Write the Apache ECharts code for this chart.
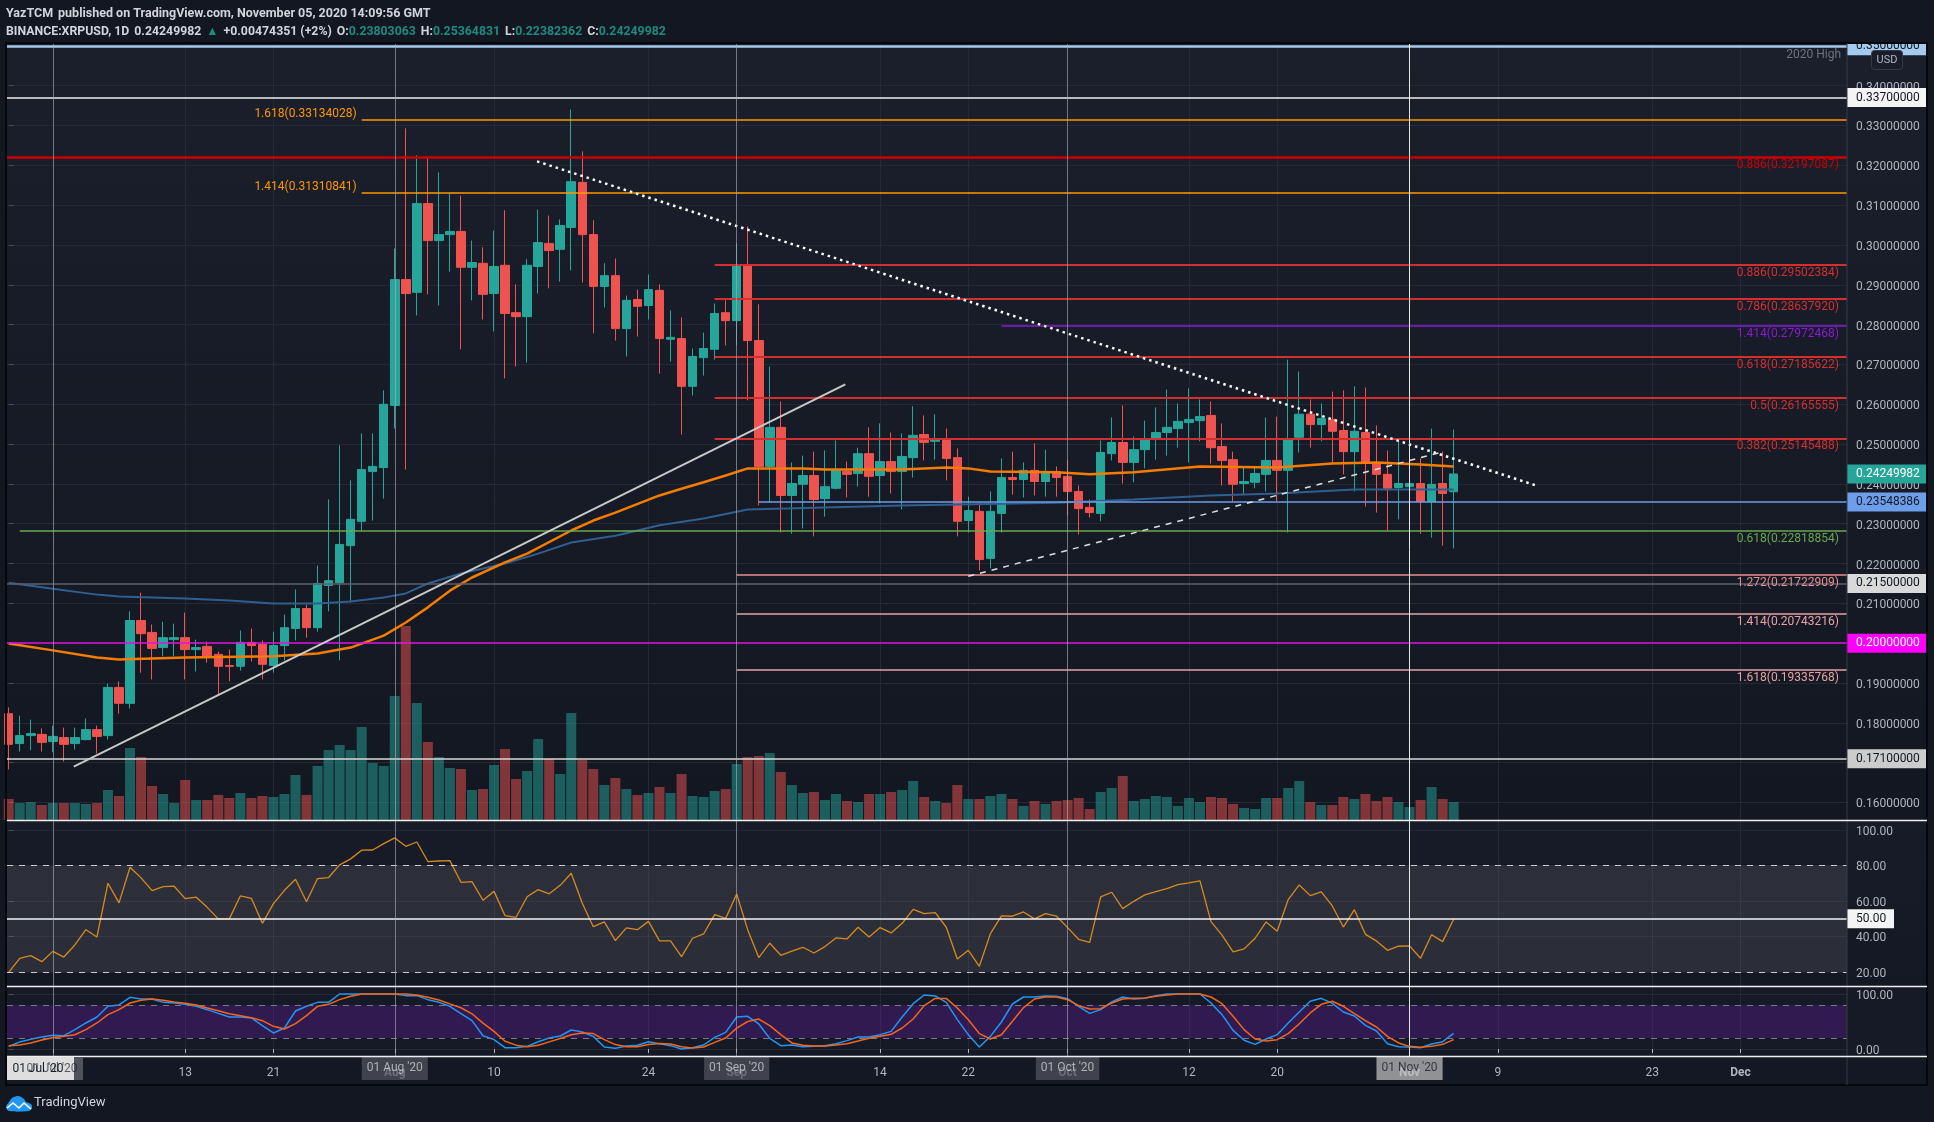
<!DOCTYPE html>
<html>
<head>
<meta charset="utf-8">
<title>XRPUSD</title>
<style>
html,body{margin:0;padding:0;background:#131722;}
#main{width:1934px;height:1122px;}
</style>
<script src="https://cdn.jsdelivr.net/npm/echarts@6/dist/echarts.min.js"></script>
</head>
<body>
<div id="main"></div>
<script>
// daily candles, first one is 27 Jun 2020
var firstDay = '2020-06-27';
var opens = [
.1823,.1748,.1768,.1771,.1753,.1763,.1748,.1758,.1783,.1768,
.1889,.1849,.2057,.2027,.1989,.2009,.2014,.1984,.1992,.1972,
.1944,.1942,.2002,.1997,.1944,.1994,.2037,.2087,.2039,.2145,
.2152,.2245,.2306,.2431,.2441,.2597,.2913,.2881,.3104,.3011,
.3026,.3034,.2944,.2954,.2878,.2949,.2830,.2820,.2946,.3004,
.2989,.3044,.3157,.3026,.2896,.2923,.2790,.2863,.2848,.2886,
.2763,.2765,.2645,.2717,.2738,.2830,.2810,.2949,.2760,.2444,
.2542,.2371,.2399,.2421,.2363,.2389,.2431,.2426,.2476,.2421,
.2456,.2431,.2466,.2524,.2507,.2509,.2466,.2308,.2331,.2213,
.2326,.2416,.2411,.2434,.2406,.2431,.2419,.2381,.2341,.2326,
.2476,.2504,.2454,.2486,.2512,.2529,.2539,.2554,.2559,.2572,
.2494,.2461,.2401,.2404,.2424,.2459,.2434,.2517,.2575,.2549,
.2562,.2534,.2481,.2529,.2451,.2424,.2391,.2393,.2401,.2356,
.2401,.23803063];
var closes = [
.1746,.1768,.1773,.1751,.1766,.1746,.1763,.1783,.1766,.1889,
.1849,.2057,.2024,.1987,.2014,.2014,.1984,.1989,.1967,.1942,
.1942,.2002,.1994,.1947,.1994,.2039,.2087,.2039,.2150,.2157,
.2248,.2311,.2436,.2444,.2600,.2913,.2878,.3104,.3011,.3026,
.3034,.2944,.2956,.2876,.2946,.2828,.2820,.2949,.3006,.2986,
.3049,.3159,.3026,.2896,.2923,.2790,.2861,.2846,.2888,.2765,
.2768,.2645,.2720,.2740,.2828,.2810,.2949,.2760,.2444,.2542,
.2371,.2401,.2421,.2361,.2393,.2434,.2424,.2476,.2419,.2456,
.2431,.2469,.2522,.2504,.2512,.2464,.2306,.2333,.2210,.2331,
.2416,.2411,.2434,.2406,.2429,.2416,.2381,.2338,.2328,.2479,
.2504,.2454,.2486,.2512,.2529,.2542,.2557,.2562,.2569,.2491,
.2459,.2399,.2406,.2426,.2459,.2434,.2512,.2575,.2549,.2564,
.2532,.2481,.2532,.2454,.2424,.2389,.2401,.2401,.2356,.2399,
.2376,.24249982];
var lows = [
.1683,.1728,.1731,.1728,.1726,.1703,.1733,.1756,.1723,.1758,
.1823,.1836,.1926,.1909,.1967,.1967,.1909,.1929,.1951,.1872,
.1904,.1931,.1954,.1909,.1926,.1957,.2007,.2014,.2029,.2080,
.1957,.2105,.2283,.2308,.2363,.2539,.2436,.2823,.2876,.2848,
.2933,.2738,.2861,.2813,.2783,.2665,.2695,.2705,.2878,.2891,
.2908,.2936,.2906,.2778,.2843,.2760,.2720,.2770,.2813,.2677,
.2707,.2524,.2622,.2672,.2712,.2748,.2748,.2610,.2346,.2353,
.2278,.2275,.2288,.2268,.2318,.2386,.2366,.2393,.2368,.2351,
.2376,.2336,.2416,.2459,.2461,.2409,.2268,.2278,.2183,.2188,
.2278,.2373,.2366,.2371,.2368,.2368,.2321,.2273,.2316,.2306,
.2459,.2401,.2404,.2439,.2461,.2471,.2491,.2454,.2507,.2451,
.2396,.2356,.2373,.2389,.2381,.2356,.2278,.2479,.2491,.2507,
.2451,.2424,.2381,.2343,.2328,.2283,.2311,.2358,.2275,.2265,
.2245,.22382362];
var highs = [
.1839,.1818,.1808,.1786,.1793,.1788,.1788,.1811,.1793,.1899,
.1904,.2080,.2127,.2047,.2054,.2049,.2077,.2009,.2004,.1979,
.1984,.2032,.2037,.2007,.2029,.2072,.2135,.2097,.2195,.2361,
.2497,.2409,.2527,.2527,.2635,.2991,.3293,.3225,.3217,.3182,
.3129,.3124,.3011,.2994,.3036,.3087,.2901,.2964,.3089,.3074,
.3064,.3340,.3235,.3062,.2954,.2966,.2873,.2888,.2926,.2901,
.2836,.2818,.2740,.2780,.2853,.2861,.3004,.3047,.2851,.2695,
.2607,.2454,.2471,.2481,.2484,.2509,.2456,.2491,.2542,.2552,
.2529,.2527,.2595,.2572,.2575,.2539,.2489,.2368,.2353,.2381,
.2464,.2481,.2454,.2502,.2486,.2444,.2459,.2396,.2361,.2509,
.2567,.2597,.2519,.2559,.2592,.2637,.2602,.2640,.2612,.2607,
.2552,.2481,.2441,.2444,.2567,.2569,.2712,.2682,.2612,.2602,
.2632,.2635,.2645,.2642,.2547,.2484,.2507,.2470,.2464,.2539,
.2481,.25364831];
var volumes = [
21,17,18,15,17,17,17,16,17,30,
24,72,63,34,26,17,40,20,20,25,
22,27,22,24,23,26,45,25,54,70,
75,70,93,57,54,124,194,117,78,63,
52,51,30,31,55,71,41,49,81,61,
46,107,60,51,35,42,31,25,27,33,
27,46,24,23,29,31,56,63,64,67,
48,35,27,28,20,26,19,18,26,26,
28,30,39,23,19,17,35,21,21,24,
26,21,14,19,16,19,20,22,11,28,
32,44,19,21,24,23,14,22,18,23,
22,16,12,11,22,22,32,39,18,15,
15,23,21,26,19,23,18,13,20,33,
21,18];
var rsiValues = [
19.8,27.7,29.2,25.8,31.6,28.4,35.2,43.8,39.7,70.0,
58.9,79.0,73.0,65.8,68.1,68.3,61.3,62.1,56.4,49.9,
49.9,62.8,61.5,47.4,58.5,66.0,72.2,59.6,72.6,73.2,
80.3,83.7,88.6,88.7,92.3,95.5,90.8,93.2,82.2,82.5,
82.7,70.5,70.9,60.4,65.4,51.7,50.8,62.4,66.4,64.0,
68.8,75.6,58.7,45.5,48.2,37.7,44.8,43.8,48.5,37.5,
37.5,28.6,39.0,41.4,52.3,50.2,63.9,43.7,28.1,36.2,
29.4,31.8,33.9,30.7,34.3,39.2,38.6,45.2,39.7,45.0,
42.0,47.4,55.3,52.9,53.4,45.2,27.3,32.2,23.2,41.6,
51.6,51.4,53.8,49.9,52.9,51.4,45.0,38.4,36.7,62.3,
64.9,55.7,59.8,63.4,65.3,66.9,69.2,70.2,71.3,48.4,
40.8,31.3,33.0,39.0,48.2,42.9,60.8,69.0,63.0,65.1,
57.2,45.3,55.1,41.2,37.5,32.2,34.5,34.7,27.7,41.0,
37.1,49.7];
var stochK = [
4.8,12.7,17.6,21.8,24.8,24.2,35.2,47.3,58.2,77.6,
80,93.9,90.9,90.9,84.8,83.6,81.2,77.6,71.5,64.8,
58.2,58.2,56.4,42.4,29.1,38.2,69.1,77.6,84.8,84.8,
100,100,100,100,100,100,97,97,89.7,84.8,
77.6,64.2,51.5,24.2,17,2.4,2.4,4.8,13.3,20,
23.6,34.5,30.9,23,3.6,1.2,5.5,6.7,13.3,9.7,
6.1,0,2.4,7.3,21.2,30.3,58.2,59.4,45.5,19.4,
6.1,7.3,4.2,4.8,6.1,9.7,15.2,21.8,21.8,26.1,
32.1,58.2,82.4,98.2,96.4,84.8,53.3,26.1,3.6,23,
49.1,81.8,94.5,94.5,96.4,95.8,91.5,77.6,64.8,71.5,
85.5,94.5,90.9,92.1,97,100,100,100,100,83.6,
62.4,33.9,15.8,8.5,18.2,26.1,47.3,67.3,86.7,92.1,
83,67.3,60,43,32.7,9.7,4.2,3.6,2.4,9.1,
13.3,28.5];
var stochD = [
6.1,7.3,10.9,16.4,20.6,23,26,35.2,47.3,62.4,
71.5,83.6,88.5,90.9,88.5,85.5,83,80,74.5,69.7,
64.2,60.6,57,51.5,41.2,36.4,46.1,60.6,77.6,81.2,
89.7,95.8,100,100,100,100,100,98,94,89,
82,75,64,47,32,14,7,4,7,13,
19,26,29,28,17,8,4,4,8,10,
9,4,2,3.6,12,20,38,50,54.5,42.4,
26,11,6.7,5.5,5.5,7.3,9.7,14.5,19.4,23,
26.7,38.2,54.5,78.8,92,92,74.5,53.3,27.9,18.2,
26,50.3,75.2,90.9,94.5,94.5,89.7,78.8,72.7,73.3,
83.6,90.9,92.1,92.7,95.8,98.2,100,100,100,94.5,
82.4,59.4,35.2,18.2,14.5,17,27.9,46,65.5,81.2,
86.7,77.6,64.2,51.5,40,23,11,4.8,3,4.8,
8.5,17];

// moving averages, only the visible vertices (day number from firstDay)
var emaDays = [0,4,8,10,16,24,28,31,34,36,38,40,42,45,47,51,53,55,59,61,63,65,67,72,74,81,85,87,89,95,98,102,108,115,120,124,128,131];
var emaValues = [.1999,.1982,.1964,.1959,.1964,.1967,.1974,.1989,.2019,.2052,.2090,.2132,.2165,.2203,.2225,.2283,.2308,.2328,.2371,.2388,.2404,.2421,.2439,.2439,.2436,.2436,.2441,.2439,.2431,.2429,.2424,.2429,.2444,.2441,.2451,.2454,.2449,.2444];
var maDays = [0,4,8,10,16,20,24,28,31,34,36,38,41,45,48,51,55,59,63,67,81,95,102,109,115,122,131];
var maValues = [.2152,.2137,.2122,.2117,.2112,.2107,.2100,.2100,.2105,.2115,.2125,.2150,.2175,.2200,.2225,.2253,.2270,.2296,.2313,.2336,.2346,.2353,.2361,.2371,.2376,.2386,.2386];

// horizontal levels drawn on the chart
var levelPrices = [.35,.337,.33134028,.32197087,.31310841,.29502384,.2863792,.27972468,.27185622,.26165555,.25145488,.23548386,.22818854,.21722909,.215,.20743216,.2,.19335768,.171];
var levelNames = ['2020 High','','1.618','0.886','1.414','0.886','0.786','1.414','0.618','0.5','0.382','','0.618','1.272','','1.414','','1.618',''];
var levelFromDay = [null,null,32,null,32,64,64,90,64,64,64,68,1,66,null,66,null,66,null];

// trend lines [day, price] pairs
var dottedTrend = [[47.9,.3210],[138.7,.2394]];
var solidTrend = [[5.9,.1690],[75.85,.2650]];
var dashedTrend = [[87,.2168],[129.8,.2479]];

// price scale tick labels
var priceTicks = [.16,.17,.18,.19,.20,.21,.22,.23,.24,.25,.26,.27,.28,.29,.30,.31,.32,.33,.34,.35];
var rsiTicks = [20,40,60,80,100];
var stochTicks = [0,100];

// price tags on the scale
var tagPrices = [.35,.337,.24249982,.23548386,.215,.2,.171];

// time axis
var tickDates = ['2020-07-01','2020-07-13','2020-07-21','2020-08-01','2020-08-10','2020-08-24','2020-09-01','2020-09-14','2020-09-22','2020-10-01','2020-10-12','2020-10-20','2020-11-01','2020-11-09','2020-11-23','2020-12-01'];
var tickNames = ['Jul','13','21','Aug','10','24','Sep','14','22','Oct','12','20','Nov','9','23','Dec'];
var monthDates = ['2020-07-01','2020-08-01','2020-09-01','2020-10-01','2020-11-01'];
var monthNames = ["01 Jul '20","01 Aug '20","01 Sep '20","01 Oct '20","01 Nov '20"];

var DAY = 86400000;
var FONT = 'Roboto';
var xMin = -0.154;
var xMax = 166.66;
var UP = '#26a69a', DOWN = '#ef5350', GRID = '#252935', TEXT = '#b2b5be';

// x axis is a plain value axis counted in days from firstDay
function toDay(s) { return (Date.parse(s + 'T00:00:00Z') - Date.parse(firstDay + 'T00:00:00Z')) / DAY; }
var tickDays = tickDates.map(toDay);
var grad = function (a, b) { return new echarts.graphic.LinearGradient(0, 0, 0, 1, [{offset: 0, color: a}, {offset: 1, color: b}]); };

var candleData = opens.map(function (o, i) { return [i, o, closes[i], lows[i], highs[i]]; });
var volumeData = volumes.map(function (v, i) {
    return {value: [i, v], itemStyle: {color: closes[i] >= opens[i] ? 'rgba(38,166,154,.5)' : 'rgba(239,83,80,.5)'}};
});
function pairs(days, vals) { return days.map(function (d, i) { return [d, vals[i]]; }); }
function daily(vals) { return vals.map(function (v, i) { return [i, v]; }); }

function xAxis(gridIndex, visible) {
    return {
        type: 'value', gridIndex: gridIndex, min: xMin, max: xMax, scale: true,
        show: visible !== false,
        axisLine: {show: false},
        axisTick: {show: false, customValues: tickDays},
        splitLine: {show: true, lineStyle: {color: GRID, width: 1}},
        axisLabel: {show: false, customValues: tickDays}
    };
}
function yAxis(gridIndex, min, max, ticks, digits) {
    return {
        type: 'value', gridIndex: gridIndex, position: 'right', min: min, max: max, scale: true,
        axisLine: {show: false},
        axisTick: {show: true, length: 5, lineStyle: {color: '#4a4e5a'}, customValues: ticks},
        splitLine: {show: true, lineStyle: {color: GRID, width: 1}},
        axisLabel: {
            show: true, margin: 9, customValues: ticks, hideOverlap: false,
            formatter: function (v) { return '{a|' + v.toFixed(digits) + '}'; },
            // top padding pulls the text down onto its grid line
            rich: {a: {color: TEXT, fontFamily: FONT, fontSize: 12, padding: [4, 0, 0, 0]}}
        }
    };
}
function hiddenY(gridIndex, min, max) {
    return {type: 'value', gridIndex: gridIndex, min: min, max: max, show: false, splitLine: {show: false}};
}

// axis that actually shows the date labels sits under the stochastic pane
var dateAxis = xAxis(3);
dateAxis.axisTick = {show: true, length: 4, lineStyle: {color: TEXT}, customValues: tickDays};
dateAxis.axisLabel = {
    show: true, margin: 11, fontFamily: FONT, fontSize: 12, color: TEXT, customValues: tickDays, hideOverlap: false,
    formatter: function (v) {
        var name = tickNames[tickDays.indexOf(v)];
        return isNaN(name) ? '{m|' + name + '}' : name;
    },
    rich: {m: {fontFamily: FONT, fontSize: 12, fontWeight: 'bold', color: TEXT}}
};

// level lines with their fib text
var levelColors = ['#a4cbed','#f0f0f0','#ff9800','#cc0000','#ff9800','#d32f2f','#d32f2f','#8a19d6','#d32f2f','#d32f2f','#d32f2f','#6d9eeb','#6aa84f','#e88f8f','#5d606b','#e6a3a3','#e010e0','#e6a3a3','#d9d9d9'];
var levelWidths = [2.5,1.5,1.5,2.5,1.5,2,2,1.5,2,2,2,1.5,1.5,1.5,1.5,1.5,1.5,1.5,1.5];
var levelData = levelPrices.map(function (p, i) {
    var from = levelFromDay[i] === null ? xMin : levelFromDay[i];
    var name = levelNames[i], label = {show: false};
    if (name === '2020 High') {
        label = {show: true, formatter: name, position: 'insideEndBottom', distance: [6, 3], verticalAlign: 'top', align: 'right', color: '#6e7180', fontFamily: FONT, fontSize: 12};
    } else if (name && levelFromDay[i] === 32) {
        label = {show: true, formatter: name + '(' + p.toFixed(8) + ')', position: 'start', distance: 5, verticalAlign: 'bottom', align: 'right', color: levelColors[i], fontFamily: FONT, fontSize: 12};
    } else if (name) {
        label = {show: true, formatter: name + '(' + p.toFixed(8) + ')', position: 'insideEndBottom', distance: [8, 2], verticalAlign: 'top', align: 'right', color: levelColors[i], fontFamily: FONT, fontSize: 12};
    }
    return [
        {coord: [from, p], symbol: 'none', label: label, lineStyle: {color: levelColors[i], width: levelWidths[i], type: 'solid'}},
        {coord: [xMax, p], symbol: 'none'}
    ];
});
function trendItem(line, style) {
    return [
        {coord: line[0], symbol: 'none', label: {show: false}, lineStyle: style},
        {coord: line[1], symbol: 'none'}
    ];
}
levelData.push(trendItem(solidTrend, {color: '#c9c9c9', width: 2, type: 'solid'}));
levelData.push(trendItem(dottedTrend, {color: '#ffffff', width: 2.5, type: [2.5, 4]}));
levelData.push(trendItem(dashedTrend, {color: '#e0e0e0', width: 1.5, type: [6, 6]}));

// coloured tags over the price scale
var tagColors = ['#a4cbed','#f4f4f4',UP,'#6d9eeb','#d9d9d9','#ff00ff','#cccccc'];
var tagTextColors = ['#131722','#131722','#ffffff','#131722','#131722','#ffffff','#131722'];
function tagItem(value, text, bg, fg, width) {
    return [
        {coord: [xMax - 1, value], symbol: 'none', lineStyle: {color: 'rgba(0,0,0,0)', width: 0},
         label: {show: true, position: 'end', distance: 0, formatter: text, color: fg, backgroundColor: bg,
                 fontFamily: FONT, fontSize: 12, padding: [4, 8, 2, 9], width: width, height: 13, lineHeight: 13, align: 'left', verticalAlign: 'middle'}},
        {coord: [xMax, value], symbol: 'none'}
    ];
}
var tagData = tagPrices.map(function (p, i) { return tagItem(p, p.toFixed(8), tagColors[i], tagTextColors[i], 62); });

// date boxes for Aug..Nov, the Jul one is doubled up so it is drawn in graphic below
function boxItem(day, text, bg, fg) {
    return {
        value: [day, 0.57],
        label: {show: true, position: 'inside', formatter: text, fontFamily: FONT, fontSize: 12, color: fg, backgroundColor: bg,
            padding: [6, 5, 5, 5], lineHeight: 12}
    };
}
var boxData = [];
for (var m = 1; m < monthDates.length; m++) {
    boxData.push(boxItem(toDay(monthDates[m]), monthNames[m], m === 4 ? 'rgba(190,190,190,.92)' : 'rgba(80,83,92,.92)', m === 4 ? '#1b1f2b' : '#c8cad0'));
}

var option = {
    backgroundColor: '#131722',
    animation: false,
    title: [
        {left: 6, top: 5, padding: 0, text: '{b|YazTCM} {n|published on TradingView.com, November 05, 2020 14:09:56 GMT}',
         textStyle: {rich: {b: {fontFamily: FONT, fontSize: 12.5, fontWeight: 'bold', color: '#d1d4dc'}, n: {fontFamily: FONT, fontSize: 12.5, color: '#d1d4dc'}}}},
        {left: 6, top: 23, padding: 0,
         text: '{b|BINANCE:XRPUSD, 1D} {n|0.24249982} {v|\u25B2} {n|+0.00474351 (+2%)} {b|O:}{v|0.23803063} {b|H:}{v|0.25364831} {b|L:}{v|0.22382362} {b|C:}{v|0.24249982}',
         textStyle: {rich: {b: {fontFamily: FONT, fontSize: 12.3, fontWeight: 'bold', color: '#d1d4dc'}, n: {fontFamily: FONT, fontSize: 12.3, color: '#d1d4dc'}, v: {fontFamily: FONT, fontSize: 12.3, color: '#1f8a80'}}}}
    ],
    grid: [
        {left: 7, right: 87, top: 43.5, height: 777},
        {left: 7, right: 87, top: 600, height: 220},
        {left: 7, right: 87, top: 820, height: 166},
        {left: 7, right: 87, top: 986, height: 70},
        {left: 7, right: 87, top: 1056, height: 29},
        {left: 7, right: 87, top: 43, height: 1013}
    ],
    xAxis: [xAxis(0), xAxis(1, false), xAxis(2), dateAxis, xAxis(4, false), xAxis(5, false)],
    yAxis: [
        yAxis(0, 0.15548, 0.35059, priceTicks, 8),
        hiddenY(1, 0, 220),
        yAxis(2, 12.1, 105.6, rsiTicks, 2),
        yAxis(3, -12.7, 114.5, stochTicks, 2),
        hiddenY(4, 0, 1),
        hiddenY(5, 0, 1)
    ],
    series: [
        {type: 'bar', name: 'Volume', xAxisIndex: 1, yAxisIndex: 1, barWidth: 10, data: volumeData, z: 1, silent: true},
        {type: 'candlestick', name: 'XRPUSD', xAxisIndex: 0, yAxisIndex: 0, barWidth: 9, z: 3, silent: true,
         encode: {x: 0, y: [1, 2, 3, 4]}, data: candleData,
         itemStyle: {color: UP, color0: DOWN, borderColor: UP, borderColor0: DOWN, borderWidth: 1}},
        {type: 'line', name: 'MA', xAxisIndex: 0, yAxisIndex: 0, data: pairs(maDays, maValues), symbol: 'none', z: 4, silent: true,
         lineStyle: {color: '#2f5f8f', width: 2}},
        {type: 'line', name: 'EMA', xAxisIndex: 0, yAxisIndex: 0, data: pairs(emaDays, emaValues), symbol: 'none', z: 4, silent: true,
         lineStyle: {color: '#f57c00', width: 2.5}},
        {type: 'line', name: 'Levels', xAxisIndex: 0, yAxisIndex: 0, data: [], z: 5, silent: true,
         markLine: {silent: true, animation: false, symbol: 'none', precision: 8, data: levelData}},
        {type: 'line', name: 'Tags', xAxisIndex: 0, yAxisIndex: 0, data: [], z: 20, silent: true,
         markLine: {silent: true, animation: false, symbol: 'none', precision: 8, data: tagData}},
        {type: 'line', name: 'RSI', xAxisIndex: 2, yAxisIndex: 2, data: daily(rsiValues), symbol: 'none', z: 4, silent: true,
         lineStyle: {color: '#d68a1f', width: 1.3},
         markArea: {silent: true, itemStyle: {color: 'rgba(110,110,118,.25)'}, data: [[{yAxis: 80}, {yAxis: 20}]]},
         markLine: {silent: true, animation: false, symbol: 'none', label: {show: false}, data: [
            {yAxis: 80, lineStyle: {color: '#c8cad0', type: [6, 6], width: 1}},
            {yAxis: 20, lineStyle: {color: '#c8cad0', type: [6, 6], width: 1}},
            {yAxis: 50, lineStyle: {color: '#f4f4f4', type: 'solid', width: 1.5}}
         ]}},
        {type: 'line', name: 'RSI tag', xAxisIndex: 2, yAxisIndex: 2, data: [], z: 20, silent: true,
         markLine: {silent: true, animation: false, symbol: 'none', data: [tagItem(50, '50.00', '#f4f4f4', '#131722', 30)]}},
        {type: 'line', name: '%K', xAxisIndex: 3, yAxisIndex: 3, data: daily(stochK), symbol: 'none', z: 4, silent: true,
         lineStyle: {color: '#2196f3', width: 1.5},
         markArea: {silent: true, itemStyle: {color: 'rgba(112,26,178,.3)'}, data: [[{yAxis: 80}, {yAxis: 20}]]},
         markLine: {silent: true, animation: false, symbol: 'none', label: {show: false}, data: [
            {yAxis: 80, lineStyle: {color: '#787b86', type: [6, 6], width: 1}},
            {yAxis: 20, lineStyle: {color: '#787b86', type: [6, 6], width: 1}}
         ]}},
        {type: 'line', name: '%D', xAxisIndex: 3, yAxisIndex: 3, data: daily(stochD), symbol: 'none', z: 5, silent: true,
         lineStyle: {color: '#f4661e', width: 1.5}},
        // first of month lines run through all panes
        {type: 'line', name: 'Months', xAxisIndex: 5, yAxisIndex: 5, data: [], z: 6, silent: true,
         markLine: {silent: true, animation: false, symbol: 'none', label: {show: false},
            data: monthDates.map(function (d, i) {
                return {xAxis: toDay(d), lineStyle: {type: 'solid', width: 1, color: i === 4 ? '#e8e8e8' : 'rgba(170,174,184,.6)'}};
            })}},
        // date boxes on the time scale
        {type: 'scatter', name: 'Month boxes', xAxisIndex: 4, yAxisIndex: 4, symbolSize: 0, z: 20, silent: true, data: boxData}
    ],
    graphic: {elements: [
        // pane backgrounds
        {type: 'rect', z: -1, shape: {x: 7, y: 43, width: 1920, height: 777}, style: {fill: grad('#1b1f2b', '#131722')}},
        {type: 'rect', z: -1, shape: {x: 7, y: 820, width: 1920, height: 166}, style: {fill: grad('#181c28', '#141824')}},
        {type: 'rect', z: -1, shape: {x: 7, y: 986, width: 1920, height: 70}, style: {fill: '#161a26'}},
        {type: 'rect', z: -1, shape: {x: 7, y: 1056, width: 1920, height: 29}, style: {fill: '#141824'}},
        // chart frame and pane separators
        {type: 'rect', z: 60, shape: {x: 1847, y: 33, width: 82, height: 10}, style: {fill: '#131722'}},
        {type: 'rect', z: 61, shape: {x: 6, y: 43, width: 1921, height: 1042}, style: {fill: 'none', stroke: '#05070b', lineWidth: 2}},
        {type: 'line', z: 61, shape: {x1: 1847, y1: 43, x2: 1847, y2: 1085}, style: {stroke: '#363a45', lineWidth: 1}},
        {type: 'line', z: 61, shape: {x1: 7, y1: 820.5, x2: 1927, y2: 820.5}, style: {stroke: '#f0f0f0', lineWidth: 1.5}},
        {type: 'line', z: 61, shape: {x1: 7, y1: 986.5, x2: 1927, y2: 986.5}, style: {stroke: '#f0f0f0', lineWidth: 1.5}},
        {type: 'line', z: 61, shape: {x1: 7, y1: 1056.5, x2: 1927, y2: 1056.5}, style: {stroke: '#f0f0f0', lineWidth: 1.5}},
        // doubled Jul date box
        {type: 'rect', z: 62, shape: {x: 20, y: 1057, width: 63, height: 23}, style: {fill: '#50535c'}},
        {type: 'rect', z: 63, shape: {x: 7, y: 1057, width: 67, height: 23}, style: {fill: '#dedede'}},
        {type: 'text', z: 64, x: 38, y: 1069, style: {text: monthNames[0], fill: '#1b1f2b', font: '12px ' + FONT, textAlign: 'center', textVerticalAlign: 'middle'}},
        {type: 'text', z: 64, x: 52, y: 1069, style: {text: monthNames[0], fill: 'rgba(27,31,43,.7)', font: '12px ' + FONT, textAlign: 'center', textVerticalAlign: 'middle'}},
        // USD button
        {type: 'rect', z: 70, shape: {x: 1871.5, y: 50.5, width: 31, height: 19, r: 3}, style: {fill: '#1a1e2a', stroke: '#363a45', lineWidth: 1}},
        {type: 'text', z: 71, x: 1887, y: 60, style: {text: 'USD', fill: TEXT, font: '11px ' + FONT, textAlign: 'center', textVerticalAlign: 'middle'}},
        // TradingView mark
        {type: 'polygon', z: 70, shape: {smooth: 0.3, points: [[9, 1111], [6, 1107], [9, 1102], [12, 1098], [18, 1096], [24, 1099], [26, 1102], [31, 1104], [32, 1108], [29, 1111]]}, style: {fill: '#2196f3'}},
        {type: 'polyline', z: 71, shape: {points: [[7, 1108], [13, 1103], [19, 1108], [24, 1103], [31, 1109]]}, style: {stroke: '#ffffff', fill: 'none', lineWidth: 1.6}},
        {type: 'text', z: 70, x: 34, y: 1103, style: {text: 'TradingView', fill: '#d1d4dc', font: '13px ' + FONT, textVerticalAlign: 'middle'}}
    ]}
};

var myChart = echarts.init(document.getElementById('main'));
myChart.setOption(option);
</script>
</body>
</html>
